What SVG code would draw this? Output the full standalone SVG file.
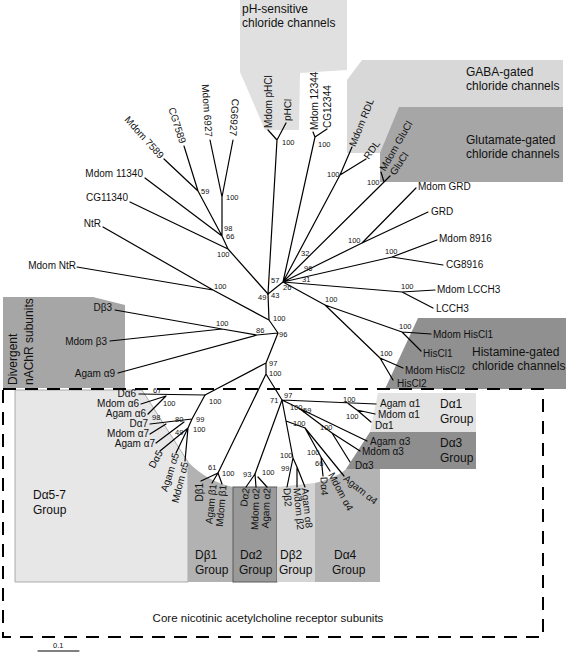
<svg xmlns="http://www.w3.org/2000/svg" width="567" height="653" viewBox="0 0 567 653">
<style>
text{font-family:"Liberation Sans",Arial,sans-serif;fill:#111}
.l{font-size:10px}
.b{font-size:7.5px}
.g{font-size:12px}
.e{fill:none;stroke:#000;stroke-width:1.2;stroke-linecap:round}
</style>
<rect width="567" height="653" fill="#fff"/>
<g id="boxes">
<g id="grp-ph"><polygon points="240,0 347,0 347,70 300,73 299,130 265,130 240,72" fill="#e0e0e0"/>
<text class="g" x="242" y="13">pH-sensitive</text><text class="g" x="242" y="27">chloride channels</text></g>
<g id="grp-gaba"><polygon points="362,60 563,60 563,153 347,153 347,80" fill="#d8d8d8"/>
<text class="g" x="466" y="76">GABA-gated</text><text class="g" x="466" y="90">chloride channels</text></g>
<g id="grp-glu"><polygon points="399,107 563,107 563,182 380,182 380,153" fill="#a6a6a6"/>
<text class="g" x="466" y="144">Glutamate-gated</text><text class="g" x="466" y="158">chloride channels</text></g>
<g id="grp-his"><polygon points="418,318 566,318 566,389 385,389" fill="#909090"/>
<text class="g" x="472" y="356">Histamine-gated</text><text class="g" x="472" y="370">chloride channels</text></g>
<g id="grp-div"><polygon points="3,297 93,297 125,305 125,388 3,388" fill="#a6a6a6"/>
<text class="g" transform="translate(16.5,385) rotate(-90)">Divergent</text>
<text class="g" transform="translate(33,385) rotate(-90)">nAChR subunits</text></g>
<g id="grp-a57"><polygon points="15,390 142,390 188,462 188,582 15,582" fill="#e7e7e7" stroke="#999" stroke-width="0.8"/>
<text class="g" x="33" y="499">Dα5-7</text><text class="g" x="33" y="514">Group</text></g>
<g id="grp-b1"><path d="M188,462 Q208,482 233,487 L233,582 L188,582 Z" fill="#b2b2b2"/>
<text class="g" x="195" y="559">Dβ1</text><text class="g" x="195" y="574">Group</text></g>
<g id="grp-a2"><rect x="233" y="487" width="44" height="95" fill="#9a9a9a" stroke="#5a5a5a" stroke-width="1"/>
<text class="g" x="240" y="559">Dα2</text><text class="g" x="239" y="574">Group</text></g>
<g id="grp-b2"><polygon points="277,487 315,483 315,582 277,582" fill="#d4d4d4"/>
<text class="g" x="280" y="559">Dβ2</text><text class="g" x="279" y="574">Group</text></g>
<g id="grp-a4"><path d="M315,483 Q338,477 346,469 L380,469 L380,582 L315,582 Z" fill="#b3b3b3"/>
<text class="g" x="334" y="559">Dα4</text><text class="g" x="332" y="574">Group</text></g>
<g id="grp-a1"><polygon points="378,393 476,393 476,432 370,432" fill="#e3e3e3"/>
<text class="g" x="440" y="408">Dα1</text><text class="g" x="440" y="423">Group</text></g>
<g id="grp-a3"><polygon points="370,432 476,432 476,469 346,469" fill="#8e8e8e"/>
<text class="g" x="440" y="447">Dα3</text><text class="g" x="440" y="462">Group</text></g>
<g id="grp-core"><rect x="3" y="389" width="540" height="248" fill="none" stroke="#000" stroke-width="2" stroke-dasharray="13,9"/>
<text style="font-size:11.5px" x="268" y="622" text-anchor="middle">Core nicotinic acetylcholine receptor subunits</text></g>
</g>
<g id="connectors" class="e">
<path d="M164,159L198,191M184,146L198,191M198,191L222,236M210,140L222,197M233,140L222,197M222,197L222,236M145,178L222,236M222,236L228,249M130,202L228,249M228,249L268,294"/>
<path d="M103,227L213,290M77,267L213,290M213,290L269,320M268,294L269,320M269,320L278,333M115,310L222,329M110,341L222,329M222,329L257,335M118,373L257,335M257,335L278,333M278,333L266,363M266,363L266,374M266,363L205,395M266,374L218,473M266,374L282,400M282,400L255,474"/>
<path d="M268,294L283,282M268,294L277,140M268,130L277,140M286,123L277,140M283,282L315,137M313,132L315,137M327,129L315,137M283,282L340,175M352,147L340,175M366,159L340,175M283,282L384,182M381,172L384,182M390,176L384,182M283,282L362,243M416,188L362,243M428,212L362,243M283,282L392,257M437,240L392,257M443,265L392,257M283,282L402,292M435,290L402,292M433,308L402,292M283,282L325,305M325,305L402,332M431,334L402,332M421,351L402,332M325,305L380,358M403,368L380,358M393,380L380,358"/>
<path d="M205,395L139,394M141,404L166,396M148,414L166,396M205,395L192,419M192,419L150,424M150,434L166,424M156,443L184,422M192,419L188,428M188,428L185,461M188,428L160,451M188,428L176,453"/>
<path d="M218,473L201,481M218,473L212,483M218,473L222,484M255,474L246,487M255,474L256,487M258,477L267,487"/>
<path d="M282,400L376,404M346,402L357,410M357,410L375,414M357,410L371,422M282,400L367,441M300,409L332,433M332,433L360,451M332,433L350,462M282,400L293,458M293,458L287,487M293,458L297,467M297,467L297,487M297,467L305,487M286,421L305,428M305,428L344,476M305,428L321,457M321,457L323,476M321,457L330,471"/>
<path d="M38,651L79,651" stroke-width="1"/>
</g>
<g id="leaves" class="l">
<g id="n-mdom7589"><text class="l" text-anchor="end" dy="0.35em" transform="translate(162,157) rotate(48)">Mdom 7589</text></g>
<g id="n-cg7589"><text class="l" text-anchor="end" dy="0.35em" transform="translate(183,143) rotate(72)">CG7589</text></g>
<g id="n-mdom6927"><text class="l" text-anchor="end" dy="0.35em" transform="translate(209,137) rotate(86)">Mdom 6927</text></g>
<g id="n-cg6927"><text class="l" text-anchor="end" dy="0.35em" transform="translate(233,136) rotate(94)">CG6927</text></g>
<g id="n-mdomphcl"><text class="l" dy="0.35em" transform="translate(268,128) rotate(-90)">Mdom pHCl</text></g>
<g id="n-phcl"><text class="l" dy="0.35em" transform="translate(287,121) rotate(-88)">pHCl</text></g>
<g id="n-mdom12344"><text class="l" dy="0.35em" transform="translate(314,130) rotate(-90)">Mdom 12344</text></g>
<g id="n-cg12344"><text class="l" dy="0.35em" transform="translate(327,128) rotate(-90)">CG12344</text></g>
<g id="n-mdomrdl"><text class="l" dy="0.35em" transform="translate(352,146) rotate(-68)">Mdom RDL</text></g>
<g id="n-rdl"><text class="l" dy="0.35em" transform="translate(366,158) rotate(-55)">RDL</text></g>
<g id="n-mdomglucl"><text class="l" dy="0.35em" transform="translate(382,170) rotate(-60)">Mdom GluCl</text></g>
<g id="n-glucl"><text class="l" dy="0.35em" transform="translate(392,174) rotate(-56)">GluCl</text></g>
<g id="n-mdomgrd"><text class="l" x="418" y="189.5">Mdom GRD</text></g>
<g id="n-grd"><text class="l" x="431" y="214.5">GRD</text></g>
<g id="n-mdom8916"><text class="l" x="439" y="241.5">Mdom 8916</text></g>
<g id="n-cg8916"><text class="l" x="446" y="267.5">CG8916</text></g>
<g id="n-mdomlcch3"><text class="l" x="437" y="292.5">Mdom LCCH3</text></g>
<g id="n-lcch3"><text class="l" x="436" y="311.5">LCCH3</text></g>
<g id="n-mdomhiscl1"><text class="l" x="433" y="337.5">Mdom HisCl1</text></g>
<g id="n-hiscl1"><text class="l" x="423" y="356.5">HisCl1</text></g>
<g id="n-mdomhiscl2"><text class="l" x="405" y="373.5">Mdom HisCl2</text></g>
<g id="n-hiscl2"><text class="l" x="397" y="386.5">HisCl2</text></g>
<g id="n-mdom11340"><text class="l" x="143" y="176.5" text-anchor="end">Mdom 11340</text></g>
<g id="n-cg11340"><text class="l" x="128" y="200.5" text-anchor="end">CG11340</text></g>
<g id="n-ntr"><text class="l" x="101" y="226.5" text-anchor="end">NtR</text></g>
<g id="n-mdomntr"><text class="l" x="76" y="268.5" text-anchor="end">Mdom NtR</text></g>
<g id="n-db3"><text class="l" x="112" y="310.5" text-anchor="end">Dβ3</text></g>
<g id="n-mdomb3"><text class="l" x="107" y="344.5" text-anchor="end">Mdom β3</text></g>
<g id="n-agama9"><text class="l" x="115" y="376.5" text-anchor="end">Agam α9</text></g>
<g id="n-da6"><text class="l" x="136" y="397" text-anchor="end">Dα6</text></g>
<g id="n-mdoma6"><text class="l" x="139" y="407" text-anchor="end">Mdom α6</text></g>
<g id="n-agama6"><text class="l" x="146" y="417" text-anchor="end">Agam α6</text></g>
<g id="n-da7"><text class="l" x="148" y="427" text-anchor="end">Dα7</text></g>
<g id="n-mdoma7"><text class="l" x="149" y="437" text-anchor="end">Mdom α7</text></g>
<g id="n-agama7"><text class="l" x="155" y="447" text-anchor="end">Agam α7</text></g>
<g id="n-da5"><text class="l" text-anchor="end" dy="0.35em" transform="translate(160,451) rotate(-62)">Dα5</text></g>
<g id="n-agama5"><text class="l" text-anchor="end" dy="0.35em" transform="translate(176,453) rotate(-72)">Agam α5</text></g>
<g id="n-mdoma5"><text class="l" text-anchor="end" dy="0.35em" transform="translate(185,462) rotate(-76)">Mdom α5</text></g>
<g id="n-db1"><text class="l" text-anchor="end" dy="0.35em" transform="translate(199,483) rotate(-90)">Dβ1</text></g>
<g id="n-agamb1"><text class="l" text-anchor="end" dy="0.35em" transform="translate(213,484) rotate(-84)">Agam β1</text></g>
<g id="n-mdomb1"><text class="l" text-anchor="end" dy="0.35em" transform="translate(223,485) rotate(-85)">Mdom β1</text></g>
<g id="n-da2"><text class="l" text-anchor="end" dy="0.35em" transform="translate(246,488) rotate(-82)">Dα2</text></g>
<g id="n-mdoma2"><text class="l" text-anchor="end" dy="0.35em" transform="translate(256,488) rotate(-88)">Mdom α2</text></g>
<g id="n-agama2"><text class="l" text-anchor="end" dy="0.35em" transform="translate(267,488) rotate(-87)">Agam α2</text></g>
<g id="n-db2"><text class="l" dy="0.35em" transform="translate(287,488) rotate(86)">Dβ2</text></g>
<g id="n-mdomb2"><text class="l" dy="0.35em" transform="translate(297,488) rotate(85)">Mdom β2</text></g>
<g id="n-agama8"><text class="l" dy="0.35em" transform="translate(305,488) rotate(84)">Agam α8</text></g>
<g id="n-da4"><text class="l" dy="0.35em" transform="translate(324,477) rotate(88)">Dα4</text></g>
<g id="n-mdoma4"><text class="l" dy="0.35em" transform="translate(331,473) rotate(62)">Mdom α4</text></g>
<g id="n-agama4"><text class="l" dy="0.35em" transform="translate(345,477) rotate(39)">Agam α4</text></g>
<g id="n-agama1"><text class="l" x="380" y="406.5">Agam α1</text></g>
<g id="n-mdoma1"><text class="l" x="378" y="417.5">Mdom α1</text></g>
<g id="n-da1"><text class="l" x="375" y="428.5">Dα1</text></g>
<g id="n-agama3"><text class="l" x="370" y="444.5">Agam α3</text></g>
<g id="n-mdoma3"><text class="l" x="362" y="454.5">Mdom α3</text></g>
<g id="n-da3"><text class="l" x="355" y="468.5">Dα3</text></g>
</g>
<g id="bootstrap" class="b">
<text class="b" x="201" y="194">59</text>
<text class="b" x="226" y="200">100</text>
<text class="b" x="282" y="145">100</text>
<text class="b" x="318" y="147">100</text>
<text class="b" x="327" y="177">100</text>
<text class="b" x="367" y="185">100</text>
<text class="b" x="224" y="231">98</text>
<text class="b" x="226" y="239">66</text>
<text class="b" x="217" y="257">100</text>
<text class="b" x="214" y="289">100</text>
<text class="b" x="271" y="283">57</text>
<text class="b" x="258" y="300">49</text>
<text class="b" x="271" y="298">43</text>
<text class="b" x="301" y="256">32</text>
<text class="b" x="304" y="271">96</text>
<text class="b" x="302" y="282">31</text>
<text class="b" x="283" y="290">26</text>
<text class="b" x="348" y="243">100</text>
<text class="b" x="385" y="254">100</text>
<text class="b" x="401" y="289">100</text>
<text class="b" x="325" y="302">100</text>
<text class="b" x="399" y="329">100</text>
<text class="b" x="380" y="356">100</text>
<text class="b" x="273" y="321">100</text>
<text class="b" x="216" y="326">100</text>
<text class="b" x="256" y="333">86</text>
<text class="b" x="279" y="337">96</text>
<text class="b" x="269" y="366">97</text>
<text class="b" x="269" y="376">100</text>
<text class="b" x="153" y="393">67</text>
<text class="b" x="163" y="406">100</text>
<text class="b" x="209" y="404">100</text>
<text class="b" x="152" y="420">98</text>
<text class="b" x="175" y="422">80</text>
<text class="b" x="196" y="422">99</text>
<text class="b" x="175" y="435">49</text>
<text class="b" x="193" y="432">100</text>
<text class="b" x="208" y="470">61</text>
<text class="b" x="222" y="476">100</text>
<text class="b" x="243" y="477">93</text>
<text class="b" x="262" y="475">100</text>
<text class="b" x="270" y="403">71</text>
<text class="b" x="284" y="398">97</text>
<text class="b" x="290" y="410">100</text>
<text class="b" x="303" y="413">59</text>
<text class="b" x="293" y="426">100</text>
<text class="b" x="320" y="430">100</text>
<text class="b" x="343" y="402">100</text>
<text class="b" x="346" y="419">100</text>
<text class="b" x="280" y="458">100</text>
<text class="b" x="281" y="471">99</text>
<text class="b" x="307" y="455">100</text>
<text class="b" x="315" y="466">66</text>
<text class="b" x="53" y="648">0.1</text>
</g>
</svg>
